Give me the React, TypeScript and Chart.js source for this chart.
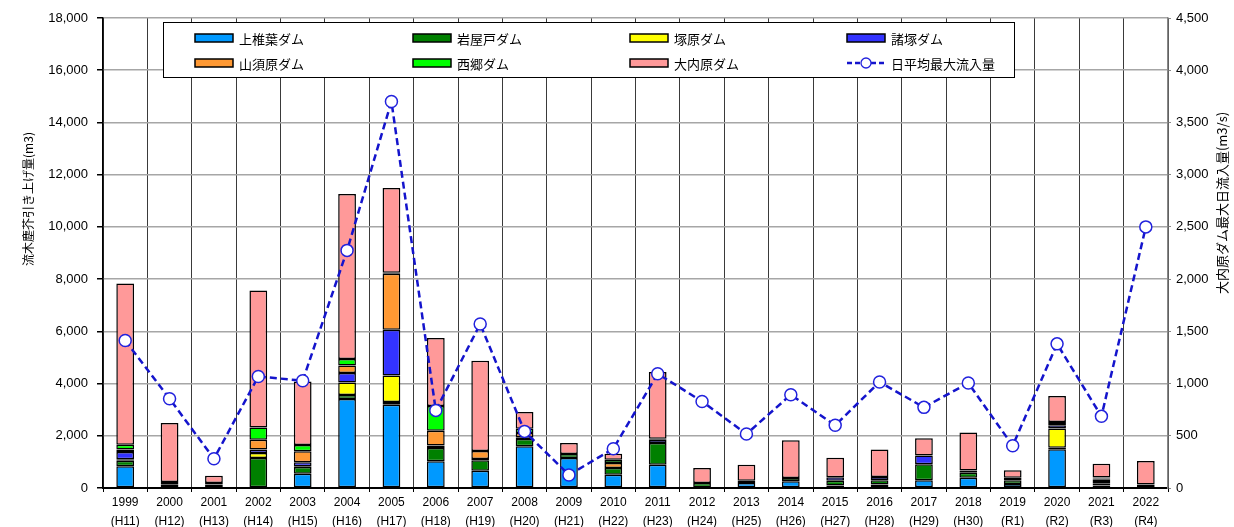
import React, { useEffect, useRef } from 'react';
import { Chart, registerables } from 'chart.js';

Chart.register(...registerables);

const FONT = '"Liberation Sans", "Noto Sans CJK JP", sans-serif';
const CJK = '"Noto Sans CJK JP", "Liberation Sans", sans-serif';

const years = ['1999','2000','2001','2002','2003','2004','2005','2006','2007','2008','2009','2010','2011','2012','2013','2014','2015','2016','2017','2018','2019','2020','2021','2022'];
const eras = ['(H11)','(H12)','(H13)','(H14)','(H15)','(H16)','(H17)','(H18)','(H19)','(H20)','(H21)','(H22)','(H23)','(H24)','(H25)','(H26)','(H27)','(H28)','(H29)','(H30)','(R1)','(R2)','(R3)','(R4)'];

// 流木塵芥引き上げ量 (m3) per dam
const kamishiiba = [830,120,130,0,550,3410,3190,1020,665,1600,1150,510,890,0,190,255,100,130,295,395,150,1480,100,0];
const iwayado = [210,110,60,1150,255,150,100,510,395,280,150,255,830,190,90,130,180,165,615,190,150,65,60,40];
const tsukabaru = [60,0,0,190,30,485,1020,0,0,0,0,0,0,0,0,0,0,0,0,0,0,730,110,0];
const morotsuka = [280,0,0,130,150,355,1750,100,50,65,0,0,130,0,0,0,130,130,330,0,40,130,50,0];
const yamasubaru = [90,0,0,380,420,295,2145,560,305,165,0,190,0,0,0,0,0,0,0,0,0,50,40,90];
const saigo = [190,0,0,470,240,245,40,955,0,155,0,130,40,0,0,0,0,0,0,90,50,75,40,0];
const ouchibaru = [6170,2260,280,5240,2430,6320,3245,2600,3460,650,420,230,2550,575,615,1445,750,1045,665,1450,290,990,530,900];

// 大内原ダム 日平均最大流入量 (m3/s)
const dailyMaxInflow = [1413,855,280,1068,1027,2275,3700,743,1570,542,125,376,1094,829,517,893,600,1015,772,1005,405,1380,686,2500];

const leftTicksMax = 18000;
const rightTicksMax = 4500;

const barSeries = [
  { label: '上椎葉ダム', data: kamishiiba, color: '#0099FF' },
  { label: '岩屋戸ダム', data: iwayado, color: '#008000' },
  { label: '塚原ダム', data: tsukabaru, color: '#FFFF00' },
  { label: '諸塚ダム', data: morotsuka, color: '#3333FF' },
  { label: '山須原ダム', data: yamasubaru, color: '#FF9933' },
  { label: '西郷ダム', data: saigo, color: '#00FF00' },
  { label: '大内原ダム', data: ouchibaru, color: '#FF9999' },
];
const lineLabel = '日平均最大流入量';
const LINE_COLOR = '#1414CC';
const MARKER_BORDER = '#2222DD';

const fmt = (v: number | string) => Number(v).toLocaleString('en-US');

const overlayPlugin = {
  id: 'overlay',
  afterDraw(chart: any) {
    const ctx = chart.ctx as CanvasRenderingContext2D;
    ctx.save();
    // legend box
    const bx = 163, by = 22, bw = 851, bh = 55;
    ctx.fillStyle = '#fff';
    ctx.fillRect(bx, by, bw, bh);
    ctx.strokeStyle = '#000';
    ctx.lineWidth = 1;
    ctx.strokeRect(bx + 0.5, by + 0.5, bw, bh);
    const cols = [195, 413, 630, 847];
    const rows = [38, 63];
    const items: { label: string; color?: string; line?: boolean }[] = [
      ...barSeries.map((s) => ({ label: s.label, color: s.color })),
      { label: lineLabel, line: true },
    ];
    ctx.font = `13px ${CJK}`;
    ctx.textBaseline = 'middle';
    ctx.textAlign = 'left';
    items.forEach((it, i) => {
      const x = cols[i % 4];
      const y = rows[Math.floor(i / 4)];
      if (it.line) {
        ctx.strokeStyle = LINE_COLOR;
        ctx.lineWidth = 2.5;
        ctx.setLineDash([5, 3]);
        ctx.beginPath();
        ctx.moveTo(x, y);
        ctx.lineTo(x + 38, y);
        ctx.stroke();
        ctx.setLineDash([]);
        ctx.beginPath();
        ctx.arc(x + 19, y, 5, 0, Math.PI * 2);
        ctx.fillStyle = '#fff';
        ctx.fill();
        ctx.strokeStyle = MARKER_BORDER;
        ctx.lineWidth = 1.3;
        ctx.stroke();
      } else {
        ctx.fillStyle = it.color!;
        ctx.fillRect(x, y - 4, 38, 8);
        ctx.strokeStyle = '#000';
        ctx.lineWidth = 1.5;
        ctx.strokeRect(x, y - 4, 38, 8);
      }
      ctx.fillStyle = '#000';
      ctx.fillText(it.label, x + 44, y + 1);
    });
    // axis titles
    ctx.fillStyle = '#000';
    ctx.textAlign = 'center';
    ctx.textBaseline = 'middle';
    ctx.save();
    ctx.translate(28, 199);
    ctx.rotate(-Math.PI / 2);
    ctx.font = `12px ${CJK}`;
    ctx.fillText('流木塵芥引き上げ量(m3)', 0, 0);
    ctx.restore();
    ctx.save();
    ctx.translate(1222, 203);
    ctx.rotate(-Math.PI / 2);
    ctx.font = `13px ${CJK}`;
    ctx.fillText('大内原ダム最大日流入量(m3/s)', 0, 0);
    ctx.restore();
    ctx.restore();
  },
};

export default function App() {
  const ref = useRef<HTMLCanvasElement>(null);
  useEffect(() => {
    document.body.style.margin = '0';
    const labels = years.map((y, i) => [y, eras[i]]);
    const datasets: any[] = barSeries.map((s) => ({
      type: 'bar',
      label: s.label,
      data: s.data,
      backgroundColor: s.color,
      borderColor: '#000',
      borderWidth: 1.5,
      borderSkipped: false,
      barPercentage: 0.4,
      categoryPercentage: 1,
      yAxisID: 'y',
      order: 1,
    }));
    datasets.push({
      type: 'line',
      label: lineLabel,
      data: dailyMaxInflow,
      yAxisID: 'y1',
      borderColor: LINE_COLOR,
      borderWidth: 2.5,
      borderDash: [7, 4],
      pointRadius: 6,
      pointBackgroundColor: '#fff',
      pointBorderColor: MARKER_BORDER,
      pointBorderWidth: 1.5,
      tension: 0,
      fill: false,
      order: 0,
    });
    const chart = new Chart(ref.current!, {
      type: 'bar',
      data: { labels, datasets },
      options: {
        responsive: false,
        animation: false,
        devicePixelRatio: 1,
        layout: { padding: { top: 18, left: 0, right: 0, bottom: 0 } },
        plugins: { legend: { display: false }, tooltip: { enabled: false } },
        scales: {
          x: {
            stacked: true,
            grid: { offset: true, color: '#3a3a3a', lineWidth: 1, tickLength: 4, tickColor: '#000' },
            border: { color: '#000', width: 2 },
            ticks: {
              color: '#000',
              font: { family: FONT, size: 12, lineHeight: 19 / 12 },
              padding: 1,
              maxRotation: 0,
              autoSkip: false,
            },
            afterFit: (s: any) => { s.height = 39; },
          },
          y: {
            stacked: true,
            position: 'left',
            min: 0,
            max: leftTicksMax,
            ticks: { stepSize: 2000, callback: (v: any) => fmt(v), color: '#000', font: { family: FONT, size: 13 }, padding: 9 },
            grid: { color: '#a6a6a6', lineWidth: 1.5, tickLength: 6, tickColor: '#000' },
            border: { color: '#000', width: 1.5 },
            afterFit: (s: any) => { s.width = 103; },
          },
          y1: {
            position: 'right',
            min: 0,
            max: rightTicksMax,
            ticks: { stepSize: 500, callback: (v: any) => fmt(v), color: '#000', font: { family: FONT, size: 13 }, padding: 5 },
            grid: { drawOnChartArea: false, tickLength: 3, tickColor: '#888' },
            border: { color: '#888', width: 1.5 },
            afterFit: (s: any) => { s.width = 66; },
          },
        },
      },
      plugins: [overlayPlugin],
    } as any);
    return () => chart.destroy();
  }, []);
  return (
    <div style={{ width: 1234, height: 527, position: 'relative', background: '#fff' }}>
      <canvas ref={ref} width={1234} height={527} style={{ display: 'block' }} />
    </div>
  );
}
